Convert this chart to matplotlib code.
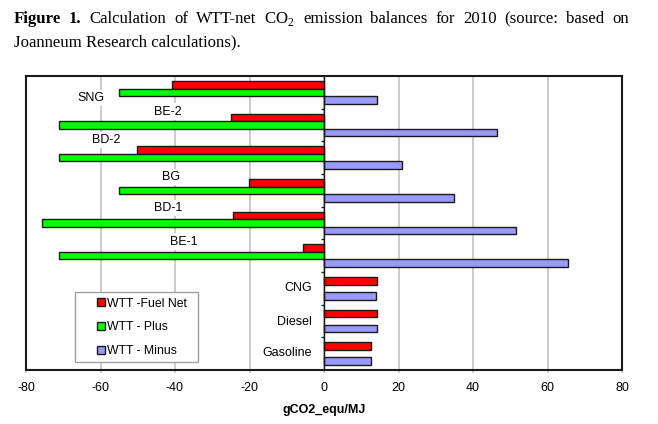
import numpy as np
import matplotlib
matplotlib.use("Agg")
import matplotlib.pyplot as plt
from matplotlib.patches import Rectangle, Patch

plt.rcParams['mathtext.fontset'] = 'custom'
plt.rcParams['mathtext.rm'] = 'Liberation Serif'
plt.rcParams['font.family'] = ['Liberation Sans', 'DejaVu Sans']

# ---- data ----
categories = ["Gasoline", "Diesel", "CNG", "BE-1", "BD-1", "BG", "BD-2", "BE-2", "SNG"]
fuel_net = [12.6, 14.3, 14.1, -5.6, -24.3, -20.2, -50.2, -24.9, -40.9]
wtt_plus = [0.0, 0.0, 0.0, -71.2, -75.8, -54.9, -71.2, -71.2, -54.9]
wtt_minus = [12.6, 14.3, 14.0, 65.6, 51.6, 34.8, 21.0, 46.4, 14.1]
series_names = ["WTT -Fuel Net", "WTT - Plus", "WTT - Minus"]
xticks = [-80, -60, -40, -20, 0, 20, 40, 60, 80]
xlabel = "gCO2_equ/MJ"

# label placement (x, y, horizontal alignment) in data coords
label_pos = {
    "SNG": (-62.6, 7.83, "center"),
    "BE-2": (-41.9, 7.41, "center"),
    "BD-2": (-58.4, 6.54, "center"),
    "BG": (-41.1, 5.40, "center"),
    "BD-1": (-41.9, 4.47, "center"),
    "BE-1": (-37.7, 3.43, "center"),
    "CNG": (-3.3, 2.00, "right"),
    "Diesel": (-3.3, 0.98, "right"),
    "Gasoline": (-3.3, 0.01, "right"),
}

colors = ["#ff0000", "#00ff00", "#9999ff"]
W, H = 658, 424
fig = plt.figure(figsize=(W / 100, H / 100), dpi=100)
ax = fig.add_axes([26 / W, 54 / H, 596 / W, 294 / H])

y = np.arange(len(categories))
bh = 0.23
offsets = [bh, 0.0, -bh]
for vals, off, c in zip([fuel_net, wtt_plus, wtt_minus], offsets, colors):
    vals = np.asarray(vals)
    m = vals != 0
    ax.barh(y[m] + off, vals[m], height=bh, color=c, edgecolor="#1a1a1a",
            linewidth=1.0, zorder=3)

ax.set_xlim(-80, 80)
ax.set_ylim(-0.5, len(categories) - 0.5)
ax.set_xticks(xticks)
ax.set_xticklabels([str(t) for t in xticks], fontsize=9)
ax.grid(axis="x", color="#c4c4c4", linewidth=1.2, zorder=0)
ax.set_axisbelow(True)
ax.tick_params(axis="x", direction="out", length=2.5, width=1.2,
               color="#c4c4c4", labelcolor="black", pad=6)

# category axis at x = 0
ax.spines["left"].set_position(("data", 0))
ax.spines["left"].set_color("#1a1a1a")
ax.spines["left"].set_linewidth(1.0)
ax.spines["left"].set_zorder(4)
for s in ["top", "right", "bottom"]:
    ax.spines[s].set_visible(False)
ax.set_yticks([])
ax.set_yticks(y[:-1] + 0.5, minor=True)
ax.tick_params(axis="y", which="minor", direction="out", length=2.5,
               width=1.0, color="#1a1a1a", labelleft=False)

ax.add_patch(Rectangle((0, 0), 1, 1, transform=ax.transAxes, fill=False,
                       edgecolor="#1a1a1a", linewidth=1.5, zorder=6,
                       clip_on=False))

for name in categories:
    lx, ly, ha = label_pos[name]
    ax.text(lx, ly, name, ha=ha, va="center", fontsize=9, zorder=5,
            bbox=dict(facecolor="white", edgecolor="none", pad=1.5))

# legend box
ax.add_patch(Rectangle((0.082, 0.028), 0.207, 0.236, transform=ax.transAxes,
                       facecolor="white", edgecolor="#a0a0a0", linewidth=1.0,
                       zorder=6))
handles = [Patch(facecolor=c, edgecolor="#1a1a1a", linewidth=1.0) for c in colors]
leg = ax.legend(handles, series_names, loc="center left",
                bbox_to_anchor=(0.1186, 0.1452), frameon=False,
                fontsize=8.8, borderpad=0, borderaxespad=0,
                handlelength=0.65, handleheight=0.65, handletextpad=0.2,
                labelspacing=0.95)
leg.set_zorder(7)

fig.text(324 / W, 1 - 410 / H, xlabel, ha="center", va="center",
         fontsize=9, fontweight="bold")

# ---- caption (justified first line) ----
serif = "Liberation Serif"
fs = 11.5
t2 = fig.text(14 / W, 1 - 46 / H, "Joanneum Research calculations).",
              fontsize=fs, family=serif, va="baseline")
fig.canvas.draw()
r = fig.canvas.get_renderer()
w2 = t2.get_window_extent(renderer=r).width
fs = fs * 227.0 / w2
t2.set_fontsize(fs)

words = [("Figure", "bold"), ("1.", "bold"), ("Calculation", "normal"),
         ("of", "normal"), ("WTT-net", "normal"), ("CO$_2$", "normal"),
         ("emission", "normal"), ("balances", "normal"), ("for", "normal"),
         ("2010", "normal"), ("(source:", "normal"), ("based", "normal"),
         ("on", "normal")]
texts = [fig.text(0, 1 - 23.3 / H, wd, fontsize=fs, family=serif,
                  fontweight=wt, va="baseline") for wd, wt in words]
fig.canvas.draw()
widths = [t.get_window_extent(renderer=r).width for t in texts]
x0, x1 = 14.0, 629.0
gap = (x1 - x0 - sum(widths)) / (len(texts) - 1)
xp = x0
for t, wd in zip(texts, widths):
    t.set_x(xp / W)
    xp += wd + gap

fig.savefig("out.png", dpi=100)
